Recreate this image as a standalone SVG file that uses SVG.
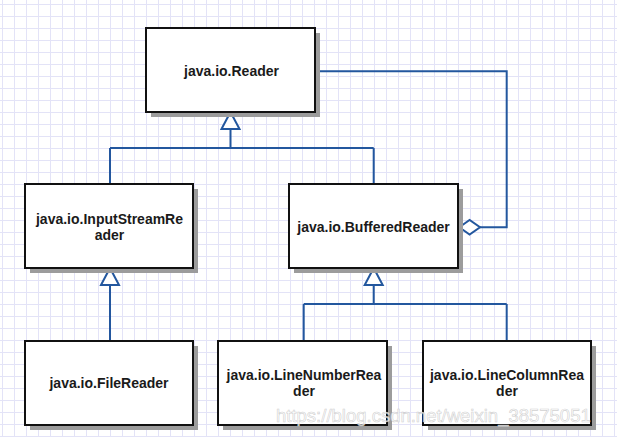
<svg xmlns="http://www.w3.org/2000/svg" width="617" height="446" viewBox="0 0 617 446">
<defs>
<pattern id="grid" patternUnits="userSpaceOnUse" x="2" y="4" width="12" height="12">
<path d="M0.5 0V12M0 0.5H12" fill="none" stroke="#e3e3f7" stroke-width="1"/>
</pattern>
<filter id="soft" x="-5%" y="-5%" width="110%" height="110%"><feGaussianBlur stdDeviation="0.6"/></filter>
</defs>
<style>
.shadow{fill:#9c9c9c;filter:url(#soft)}
.box{fill:#ffffff;stroke:#111111;stroke-width:2}
.lbl{font-family:"Liberation Sans",Arial,Helvetica,sans-serif;font-weight:bold;font-size:14px;fill:#1a1a1a;text-anchor:middle}
.conn{fill:none;stroke:#23579e;stroke-width:2}
.head{fill:#ffffff;stroke:#23579e;stroke-width:2}
.wm{font-family:"Liberation Sans",Arial,Helvetica,sans-serif;font-size:18.5px;fill:#ffffff;fill-opacity:0.8;stroke:#c4c4c4;stroke-width:0.6;stroke-opacity:0.8}
</style>
<rect width="617" height="446" fill="#ffffff"/>
<rect x="0" y="0" width="617" height="437" fill="url(#grid)"/>

<g id="connectors">
<path class="conn" d="M230.5 129V148M110 148H373.7M110 148V184M373.7 148V184"/>
<polygon class="head" points="230.5,112 239.5,129 221.5,129"/>
<path class="conn" d="M315 71.3H506.7V227.3H480"/>
<polygon class="head" points="459.3,227.3 469.6,220 480,227.3 469.6,234.6"/>
<path class="conn" d="M110 285V341"/>
<polygon class="head" points="110,268 119,285 101,285"/>
<path class="conn" d="M373.7 285V304M303.7 304H506.7M303.7 304V341M506.7 304V341"/>
<polygon class="head" points="373.7,268 382.7,285 364.7,285"/>
</g>

<g id="reader">
<rect class="shadow" x="151" y="33" width="169" height="84"/>
<rect class="box" x="146" y="28" width="169" height="84"/>
<text class="lbl" x="231.5" y="75.5">java.io.Reader</text>
</g>

<g id="inputstreamreader">
<rect class="shadow" x="30" y="189" width="168" height="84"/>
<rect class="box" x="25" y="184" width="168" height="84"/>
<text class="lbl" x="109.5" y="224">java.io.InputStreamRe</text>
<text class="lbl" x="109.5" y="240">ader</text>
</g>

<g id="bufferedreader">
<rect class="shadow" x="294" y="189" width="169" height="84"/>
<rect class="box" x="289" y="184" width="169" height="84"/>
<text class="lbl" x="373.5" y="231.5">java.io.BufferedReader</text>
</g>

<g id="filereader">
<rect class="shadow" x="30" y="346" width="168" height="84"/>
<rect class="box" x="25" y="341" width="168" height="84"/>
<text class="lbl" x="109" y="387.5">java.io.FileReader</text>
</g>

<g id="linenumberreader">
<rect class="shadow" x="223" y="346" width="169" height="84"/>
<rect class="box" x="218" y="341" width="169" height="84"/>
<text class="lbl" x="304" y="380">java.io.LineNumberRea</text>
<text class="lbl" x="304" y="396">der</text>
</g>

<g id="linecolumnreader">
<rect class="shadow" x="428" y="346" width="168" height="84"/>
<rect class="box" x="423" y="341" width="168" height="84"/>
<text class="lbl" x="507" y="380">java.io.LineColumnRea</text>
<text class="lbl" x="507" y="396">der</text>
</g>

<text class="wm" x="276" y="421.5">https://blog.csdn.net/weixin_38575051</text>
</svg>
